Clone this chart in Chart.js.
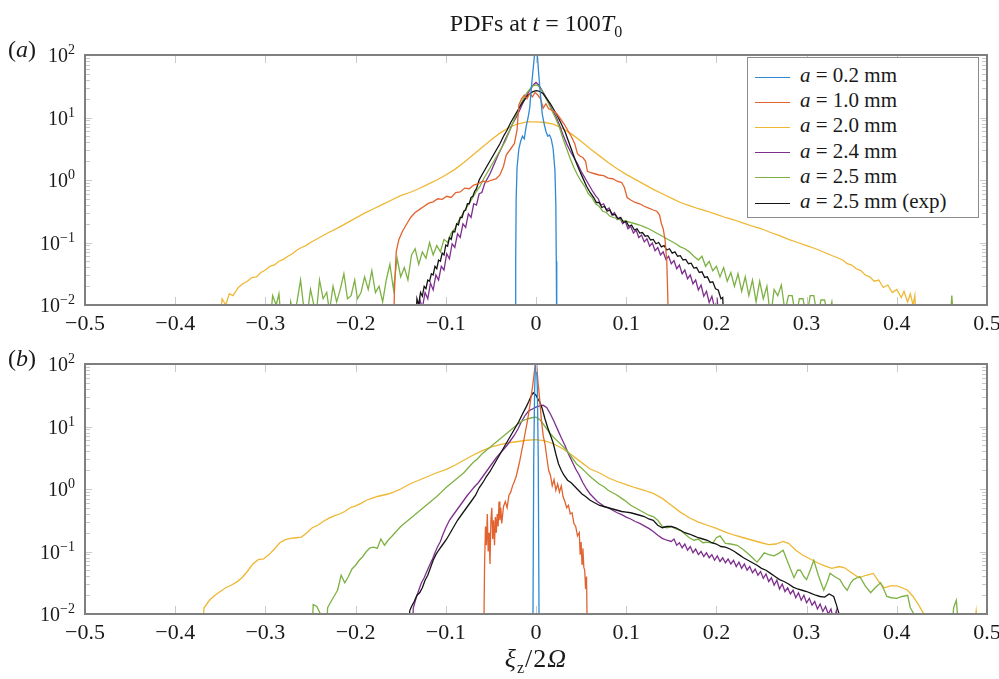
<!DOCTYPE html>
<html>
<head>
<meta charset="utf-8">
<script src="https://cdn.jsdelivr.net/npm/chart.js@4.4.1/dist/chart.umd.min.js"></script>
<style>
  body { margin: 0; background: #fff; }
  #wrap { position: relative; width: 999px; height: 679px; overflow: hidden; font-family: 'Liberation Serif', 'Times New Roman', 'DejaVu Serif', serif; color: #1a1a1a; }
  canvas { position: absolute; left: 0; }
  #c1 { top: 0; }
  #c2 { top: 309px; }
  .txt { position: absolute; white-space: nowrap; font-size: 24px; line-height: 26px; }
  #title { left: 336px; width: 400px; top: 10px; text-align: center; }
  #labA { left: 8px; top: 36px; }
  #labB { left: 8px; top: 345px; }
  #xlab { left: 386px; width: 300px; top: 646px; text-align: center; font-size: 26px; letter-spacing: 1px; }
  sub { font-size: 16px; vertical-align: -6px; line-height: 0; }
  #legend { position: absolute; left: 747px; top: 57px; width: 232px; height: 161px; border: 1.5px solid #8c8c8c; background: #fff; padding-top: 5px; box-sizing: border-box; }
  .row { height: 25.2px; line-height: 25px; font-size: 21px; white-space: nowrap; }
  .sw { display: inline-block; width: 35px; margin-left: 7px; margin-right: 10px; vertical-align: middle; border-top: 1.6px solid; }
</style>
</head>
<body>
<div id="wrap">
  <canvas id="c1" width="999" height="340"></canvas>
  <canvas id="c2" width="999" height="340"></canvas>
  <div class="txt" id="title">PDFs at <i>t</i> = 100<i>T</i><sub>0</sub></div>
  <div class="txt" id="labA">(<i>a</i>)</div>
  <div class="txt" id="labB">(<i>b</i>)</div>
  <div class="txt" id="xlab"><i>ξ</i><sub>z</sub>/2<i>Ω</i></div>
  <div id="legend"></div>
</div>
<script>
// series names and colours
const seriesLabels = ['a = 0.2 mm', 'a = 1.0 mm', 'a = 2.0 mm', 'a = 2.4 mm', 'a = 2.5 mm', 'a = 2.5 mm (exp)'];
const seriesColors = ['#2f89d4', '#e2632f', '#efb733', '#7e2f8e', '#7db143', '#141414'];
const drawOrder = [0, 1, 5, 4, 3, 2];

// axis ranges / ticks
const xMin = -0.5, xMax = 0.5, xStep = 0.1;
const yTickExponents = [-2, -1, 0, 1, 2];

// panel (a): pairs of [xi_z/2Omega, log10 PDF]
const a02 = [[-0.023,-2.5],[-0.0225,-1.3],[-0.022,-0.3],[-0.021,0.2],[-0.019,0.5],[-0.017,0.62],[-0.015,0.7],[-0.013,0.66],[-0.011,0.85],[-0.009,0.98],[-0.007,1.15],[-0.005,1.5],[-0.003,1.8],[-0.001,2.1],[0.001,2.1],[0.003,1.7],[0.005,1.35],[0.007,1.05],[0.009,0.9],[0.011,0.78],[0.013,0.7],[0.015,0.72],[0.017,0.65],[0.019,0.5],[0.021,0.15],[0.022,-0.4],[0.0225,-1.3],[0.023,-2.5]];
const a10 = [[-0.158,-2.5],[-0.157,-1.8],[-0.155,-1.15],[-0.152,-0.95],[-0.148,-0.82],[-0.144,-0.72],[-0.139,-0.6],[-0.134,-0.52],[-0.129,-0.47],[-0.124,-0.42],[-0.119,-0.37],[-0.114,-0.35],[-0.109,-0.3],[-0.104,-0.31],[-0.099,-0.26],[-0.094,-0.28],[-0.089,-0.2],[-0.084,-0.19],[-0.079,-0.13],[-0.074,-0.14],[-0.069,-0.08],[-0.064,-0.06],[-0.059,-0.02],[-0.054,-0.03],[-0.049,0.0],[-0.044,0.02],[-0.040,0.08],[-0.036,0.22],[-0.033,0.4],[-0.030,0.46],[-0.027,0.52],[-0.024,0.58],[-0.021,0.8],[-0.019,1.2],[-0.016,1.3],[-0.013,1.36],[-0.010,1.3],[-0.007,1.38],[-0.004,1.33],[-0.001,1.4],[0.002,1.36],[0.005,1.3],[0.008,1.15],[0.011,1.22],[0.014,1.14],[0.017,1.12],[0.020,1.1],[0.023,1.06],[0.027,0.98],[0.031,0.9],[0.035,0.8],[0.039,0.7],[0.043,0.58],[0.046,0.42],[0.049,0.38],[0.052,0.36],[0.055,0.3],[0.057,0.14],[0.060,0.12],[0.065,0.1],[0.070,0.08],[0.075,0.07],[0.080,0.03],[0.085,0.02],[0.090,-0.02],[0.095,-0.04],[0.098,-0.12],[0.101,-0.28],[0.105,-0.32],[0.110,-0.36],[0.115,-0.38],[0.120,-0.42],[0.125,-0.45],[0.130,-0.48],[0.134,-0.5],[0.137,-0.56],[0.139,-0.7],[0.141,-0.78],[0.143,-0.95],[0.145,-1.3],[0.146,-1.8],[0.147,-2.5]];
const a20 = [[-0.352,-2.5],[-0.348,-1.9],[-0.344,-2.0],[-0.340,-1.82],[-0.336,-1.85],[-0.330,-1.72],[-0.325,-1.66],[-0.320,-1.62],[-0.315,-1.56],[-0.310,-1.55],[-0.305,-1.48],[-0.300,-1.44],[-0.295,-1.38],[-0.290,-1.36],[-0.285,-1.3],[-0.280,-1.27],[-0.275,-1.22],[-0.270,-1.18],[-0.265,-1.12],[-0.260,-1.08],[-0.255,-1.05],[-0.250,-1.0],[-0.245,-0.96],[-0.240,-0.92],[-0.235,-0.88],[-0.230,-0.84],[-0.220,-0.77],[-0.210,-0.69],[-0.200,-0.61],[-0.190,-0.53],[-0.180,-0.46],[-0.170,-0.39],[-0.160,-0.32],[-0.150,-0.25],[-0.140,-0.2],[-0.130,-0.14],[-0.120,-0.07],[-0.110,0.0],[-0.100,0.08],[-0.090,0.17],[-0.080,0.28],[-0.070,0.4],[-0.060,0.52],[-0.050,0.64],[-0.040,0.75],[-0.030,0.84],[-0.020,0.9],[-0.010,0.93],[0.0,0.93],[0.010,0.92],[0.020,0.89],[0.030,0.82],[0.040,0.73],[0.050,0.62],[0.060,0.5],[0.070,0.39],[0.080,0.28],[0.090,0.18],[0.100,0.09],[0.110,0.01],[0.120,-0.07],[0.130,-0.15],[0.140,-0.22],[0.150,-0.29],[0.160,-0.36],[0.170,-0.41],[0.180,-0.46],[0.190,-0.5],[0.200,-0.55],[0.210,-0.6],[0.220,-0.64],[0.230,-0.69],[0.240,-0.74],[0.250,-0.78],[0.260,-0.84],[0.270,-0.89],[0.280,-0.95],[0.290,-1.0],[0.300,-1.05],[0.310,-1.1],[0.320,-1.16],[0.330,-1.22],[0.340,-1.28],[0.345,-1.34],[0.350,-1.36],[0.355,-1.42],[0.360,-1.45],[0.365,-1.52],[0.370,-1.55],[0.375,-1.62],[0.380,-1.6],[0.385,-1.72],[0.390,-1.68],[0.395,-1.8],[0.400,-1.75],[0.405,-1.88],[0.408,-1.78],[0.412,-1.95],[0.415,-1.82],[0.418,-2.0],[0.420,-1.85],[0.422,-2.5]];
const a24 = [[-0.131,-2.5],[-0.129,-1.9],[-0.126,-2.05],[-0.123,-1.8],[-0.120,-1.9],[-0.117,-1.65],[-0.114,-1.76],[-0.111,-1.52],[-0.108,-1.6],[-0.105,-1.38],[-0.102,-1.44],[-0.099,-1.18],[-0.096,-1.26],[-0.093,-1.02],[-0.090,-1.08],[-0.087,-0.86],[-0.084,-0.92],[-0.081,-0.7],[-0.078,-0.76],[-0.075,-0.54],[-0.072,-0.6],[-0.069,-0.38],[-0.066,-0.4],[-0.063,-0.22],[-0.060,-0.2],[-0.057,-0.06],[-0.054,0.02],[-0.051,0.1],[-0.048,0.2],[-0.045,0.3],[-0.042,0.4],[-0.038,0.52],[-0.034,0.65],[-0.030,0.77],[-0.026,0.9],[-0.022,1.0],[-0.018,1.12],[-0.014,1.25],[-0.010,1.36],[-0.006,1.46],[-0.003,1.52],[0.0,1.56],[0.003,1.52],[0.006,1.45],[0.010,1.35],[0.014,1.24],[0.018,1.12],[0.022,1.02],[0.026,0.88],[0.030,0.72],[0.034,0.58],[0.038,0.46],[0.042,0.36],[0.046,0.26],[0.050,0.14],[0.054,0.04],[0.058,-0.06],[0.062,-0.16],[0.066,-0.25],[0.069,-0.3],[0.072,-0.4],[0.075,-0.38],[0.078,-0.48],[0.081,-0.45],[0.084,-0.56],[0.087,-0.52],[0.090,-0.63],[0.093,-0.6],[0.096,-0.7],[0.099,-0.66],[0.102,-0.78],[0.105,-0.74],[0.108,-0.85],[0.111,-0.8],[0.114,-0.92],[0.117,-0.88],[0.120,-0.99],[0.123,-0.94],[0.126,-1.06],[0.129,-1.01],[0.132,-1.13],[0.135,-1.08],[0.138,-1.2],[0.141,-1.15],[0.144,-1.27],[0.147,-1.22],[0.150,-1.34],[0.153,-1.29],[0.156,-1.42],[0.159,-1.36],[0.162,-1.5],[0.165,-1.44],[0.168,-1.58],[0.171,-1.52],[0.174,-1.66],[0.177,-1.6],[0.180,-1.76],[0.183,-1.68],[0.186,-1.86],[0.189,-1.78],[0.192,-1.96],[0.195,-1.86],[0.198,-2.05],[0.201,-1.92],[0.204,-2.5]];
const a25 = [[-0.296,-2.5],[-0.292,-1.85],[-0.288,-2.0],[-0.285,-1.82],[-0.281,-2.5],[-0.275,-2.5],[-0.272,-1.95],[-0.268,-2.2],[-0.265,-1.95],[-0.261,-1.6],[-0.258,-1.98],[-0.254,-2.2],[-0.250,-1.75],[-0.247,-1.95],[-0.244,-2.2],[-0.240,-1.6],[-0.236,-1.9],[-0.232,-1.8],[-0.229,-2.1],[-0.225,-1.7],[-0.221,-1.95],[-0.217,-1.75],[-0.213,-1.5],[-0.209,-1.9],[-0.205,-1.85],[-0.201,-1.6],[-0.198,-1.9],[-0.194,-1.8],[-0.190,-1.55],[-0.186,-1.75],[-0.182,-1.45],[-0.178,-1.8],[-0.174,-1.7],[-0.170,-1.95],[-0.166,-1.6],[-0.162,-1.35],[-0.158,-1.75],[-0.154,-1.25],[-0.150,-1.55],[-0.146,-1.4],[-0.142,-1.6],[-0.138,-1.2],[-0.134,-1.1],[-0.130,-1.35],[-0.126,-1.15],[-0.122,-1.25],[-0.118,-1.0],[-0.114,-1.2],[-0.110,-1.05],[-0.106,-1.15],[-0.102,-0.95],[-0.098,-1.0],[-0.094,-0.85],[-0.090,-0.78],[-0.086,-0.66],[-0.082,-0.56],[-0.078,-0.46],[-0.074,-0.37],[-0.070,-0.28],[-0.066,-0.18],[-0.062,-0.1],[-0.058,0.02],[-0.054,0.12],[-0.050,0.22],[-0.046,0.32],[-0.042,0.42],[-0.038,0.52],[-0.034,0.62],[-0.030,0.76],[-0.026,0.9],[-0.022,1.04],[-0.018,1.18],[-0.014,1.3],[-0.010,1.4],[-0.006,1.47],[-0.003,1.51],[0.0,1.52],[0.003,1.5],[0.006,1.44],[0.010,1.34],[0.014,1.22],[0.018,1.1],[0.022,0.98],[0.026,0.84],[0.030,0.66],[0.034,0.5],[0.038,0.34],[0.042,0.2],[0.046,0.08],[0.050,-0.02],[0.054,-0.1],[0.058,-0.22],[0.062,-0.28],[0.066,-0.38],[0.070,-0.42],[0.074,-0.5],[0.078,-0.52],[0.082,-0.58],[0.086,-0.6],[0.090,-0.62],[0.095,-0.65],[0.100,-0.66],[0.105,-0.68],[0.110,-0.7],[0.115,-0.72],[0.120,-0.75],[0.125,-0.78],[0.130,-0.82],[0.135,-0.86],[0.140,-0.9],[0.145,-0.94],[0.150,-0.98],[0.155,-1.02],[0.160,-1.07],[0.165,-1.1],[0.170,-1.15],[0.175,-1.22],[0.180,-1.28],[0.184,-1.22],[0.188,-1.38],[0.192,-1.3],[0.196,-1.45],[0.200,-1.38],[0.204,-1.55],[0.208,-1.4],[0.212,-1.62],[0.216,-1.48],[0.220,-1.7],[0.224,-1.5],[0.228,-1.78],[0.232,-1.55],[0.236,-1.85],[0.240,-1.6],[0.244,-1.95],[0.248,-1.62],[0.252,-1.9],[0.256,-1.7],[0.260,-2.2],[0.264,-1.75],[0.268,-1.85],[0.272,-1.68],[0.276,-2.1],[0.280,-1.85],[0.284,-1.85],[0.288,-2.2],[0.292,-1.9],[0.296,-1.9],[0.300,-2.2],[0.304,-1.85],[0.308,-1.85],[0.312,-2.2],[0.316,-1.92],[0.320,-1.92],[0.324,-2.2],[0.328,-1.95],[0.332,-2.5],[0.335,null],[0.458,-2.5],[0.461,-1.85],[0.464,-2.5]];
const a25e = [[-0.134,-2.5],[-0.132,-1.9],[-0.130,-2.0],[-0.128,-1.8],[-0.126,-1.86],[-0.124,-1.7],[-0.122,-1.74],[-0.120,-1.6],[-0.118,-1.62],[-0.116,-1.5],[-0.114,-1.52],[-0.112,-1.38],[-0.110,-1.42],[-0.108,-1.28],[-0.106,-1.3],[-0.104,-1.17],[-0.102,-1.2],[-0.100,-1.04],[-0.098,-1.06],[-0.096,-0.92],[-0.094,-0.95],[-0.092,-0.82],[-0.090,-0.83],[-0.088,-0.7],[-0.086,-0.72],[-0.084,-0.6],[-0.082,-0.6],[-0.080,-0.5],[-0.078,-0.48],[-0.076,-0.38],[-0.074,-0.38],[-0.072,-0.28],[-0.070,-0.26],[-0.068,-0.18],[-0.066,-0.14],[-0.063,0.0],[-0.060,0.08],[-0.056,0.18],[-0.052,0.28],[-0.048,0.38],[-0.044,0.48],[-0.040,0.58],[-0.036,0.7],[-0.032,0.8],[-0.028,0.92],[-0.024,1.02],[-0.020,1.12],[-0.016,1.22],[-0.012,1.3],[-0.008,1.37],[-0.004,1.41],[0.0,1.43],[0.004,1.42],[0.008,1.38],[0.012,1.3],[0.016,1.22],[0.020,1.12],[0.024,1.02],[0.028,0.9],[0.032,0.78],[0.036,0.62],[0.040,0.46],[0.044,0.3],[0.048,0.16],[0.052,0.03],[0.056,-0.1],[0.060,-0.2],[0.064,-0.28],[0.067,-0.36],[0.070,-0.36],[0.073,-0.44],[0.076,-0.42],[0.079,-0.5],[0.082,-0.48],[0.085,-0.56],[0.088,-0.55],[0.091,-0.62],[0.094,-0.6],[0.097,-0.68],[0.100,-0.66],[0.103,-0.74],[0.106,-0.72],[0.109,-0.8],[0.112,-0.78],[0.115,-0.85],[0.118,-0.84],[0.121,-0.9],[0.124,-0.89],[0.127,-0.96],[0.130,-0.95],[0.133,-1.02],[0.136,-1.0],[0.139,-1.07],[0.142,-1.05],[0.145,-1.12],[0.148,-1.1],[0.151,-1.17],[0.154,-1.15],[0.157,-1.22],[0.160,-1.21],[0.163,-1.28],[0.166,-1.27],[0.169,-1.34],[0.172,-1.33],[0.175,-1.41],[0.178,-1.4],[0.181,-1.48],[0.184,-1.47],[0.187,-1.56],[0.190,-1.55],[0.193,-1.64],[0.196,-1.63],[0.199,-1.74],[0.202,-1.76],[0.205,-1.9],[0.207,-1.88],[0.209,-2.5]];

// panel (b): pairs of [xi_z/2Omega, log10 PDF]
const b02 = [[-0.0035,-2.5],[-0.0025,0.5],[-0.0015,1.6],[0.0,2.2],[0.0015,1.6],[0.0025,0.5],[0.0035,-2.5]];
const b10 = [[-0.058,-2.5],[-0.057,-1.2],[-0.056,-0.6],[-0.055,-0.9],[-0.054,-0.4],[-0.053,-1.0],[-0.052,-0.7],[-0.051,-1.2],[-0.050,-0.5],[-0.049,-0.3],[-0.048,-0.8],[-0.047,-0.5],[-0.046,-0.9],[-0.045,-0.45],[-0.044,-0.7],[-0.043,-0.4],[-0.042,-0.6],[-0.041,-0.2],[-0.040,-0.5],[-0.039,-0.3],[-0.038,-0.55],[-0.036,-0.28],[-0.034,-0.2],[-0.032,-0.3],[-0.030,-0.1],[-0.028,-0.05],[-0.026,0.05],[-0.024,0.12],[-0.022,0.2],[-0.020,0.32],[-0.018,0.45],[-0.016,0.6],[-0.014,0.74],[-0.012,0.9],[-0.010,1.05],[-0.008,1.22],[-0.006,1.42],[-0.004,1.62],[-0.002,1.85],[0.0,2.1],[0.002,1.75],[0.004,1.45],[0.006,1.1],[0.008,0.85],[0.010,0.72],[0.012,0.5],[0.014,0.3],[0.016,0.22],[0.018,0.05],[0.020,0.15],[0.022,-0.02],[0.024,0.08],[0.026,-0.05],[0.028,0.05],[0.030,-0.12],[0.032,-0.2],[0.034,-0.3],[0.036,-0.26],[0.038,-0.4],[0.040,-0.38],[0.042,-0.55],[0.044,-0.6],[0.046,-0.75],[0.048,-0.7],[0.049,-1.05],[0.050,-0.85],[0.051,-1.2],[0.052,-0.95],[0.053,-1.25],[0.054,-1.3],[0.055,-1.6],[0.056,-1.4],[0.057,-2.5]];
const b20 = [[-0.372,-2.5],[-0.368,-1.9],[-0.362,-1.78],[-0.356,-1.7],[-0.350,-1.64],[-0.344,-1.58],[-0.338,-1.54],[-0.332,-1.49],[-0.326,-1.42],[-0.320,-1.32],[-0.314,-1.2],[-0.308,-1.13],[-0.302,-1.12],[-0.296,-1.05],[-0.290,-0.96],[-0.284,-0.86],[-0.278,-0.81],[-0.272,-0.79],[-0.266,-0.78],[-0.260,-0.77],[-0.254,-0.7],[-0.248,-0.62],[-0.242,-0.58],[-0.236,-0.52],[-0.230,-0.47],[-0.224,-0.43],[-0.218,-0.4],[-0.212,-0.36],[-0.206,-0.3],[-0.200,-0.27],[-0.194,-0.23],[-0.188,-0.18],[-0.182,-0.15],[-0.176,-0.12],[-0.170,-0.1],[-0.164,-0.08],[-0.158,-0.05],[-0.150,0.0],[-0.140,0.08],[-0.130,0.14],[-0.120,0.2],[-0.110,0.26],[-0.100,0.31],[-0.090,0.38],[-0.080,0.46],[-0.070,0.54],[-0.060,0.61],[-0.050,0.67],[-0.040,0.71],[-0.030,0.74],[-0.020,0.76],[-0.010,0.78],[0.0,0.79],[0.010,0.77],[0.020,0.72],[0.030,0.64],[0.040,0.54],[0.050,0.43],[0.060,0.32],[0.070,0.26],[0.080,0.18],[0.090,0.12],[0.100,0.07],[0.110,0.02],[0.120,-0.02],[0.130,-0.07],[0.140,-0.15],[0.150,-0.26],[0.160,-0.37],[0.170,-0.46],[0.180,-0.53],[0.190,-0.58],[0.200,-0.63],[0.210,-0.69],[0.220,-0.74],[0.230,-0.78],[0.240,-0.82],[0.250,-0.86],[0.258,-0.89],[0.266,-0.88],[0.274,-0.84],[0.280,-0.87],[0.288,-0.98],[0.296,-1.06],[0.304,-1.12],[0.312,-1.18],[0.320,-1.23],[0.328,-1.27],[0.336,-1.24],[0.342,-1.26],[0.350,-1.34],[0.358,-1.42],[0.366,-1.38],[0.374,-1.35],[0.380,-1.48],[0.386,-1.58],[0.393,-1.55],[0.400,-1.55],[0.406,-1.58],[0.412,-1.62],[0.418,-1.72],[0.424,-1.85],[0.430,-2.0],[0.433,-2.5],[0.440,null],[0.484,-2.5],[0.488,-1.95],[0.492,-2.5]];
const b24 = [[-0.138,-2.5],[-0.136,-1.9],[-0.133,-1.75],[-0.130,-1.62],[-0.127,-1.5],[-0.124,-1.42],[-0.121,-1.32],[-0.118,-1.22],[-0.115,-1.13],[-0.112,-1.02],[-0.109,-0.92],[-0.106,-0.84],[-0.103,-0.72],[-0.100,-0.62],[-0.096,-0.5],[-0.092,-0.42],[-0.088,-0.34],[-0.084,-0.26],[-0.080,-0.18],[-0.076,-0.1],[-0.072,-0.03],[-0.068,0.04],[-0.064,0.1],[-0.060,0.18],[-0.056,0.26],[-0.052,0.34],[-0.048,0.42],[-0.044,0.5],[-0.040,0.57],[-0.036,0.63],[-0.032,0.7],[-0.028,0.78],[-0.024,0.86],[-0.020,0.96],[-0.016,1.08],[-0.012,1.18],[-0.008,1.25],[-0.004,1.28],[0.0,1.31],[0.004,1.33],[0.008,1.34],[0.012,1.3],[0.016,1.2],[0.020,1.08],[0.024,0.95],[0.028,0.82],[0.032,0.7],[0.036,0.56],[0.040,0.44],[0.044,0.32],[0.048,0.22],[0.052,0.1],[0.056,0.0],[0.060,-0.08],[0.064,-0.14],[0.068,-0.2],[0.072,-0.24],[0.076,-0.28],[0.080,-0.3],[0.085,-0.34],[0.090,-0.38],[0.095,-0.41],[0.100,-0.45],[0.105,-0.48],[0.110,-0.52],[0.115,-0.55],[0.120,-0.59],[0.125,-0.63],[0.130,-0.68],[0.135,-0.74],[0.140,-0.79],[0.145,-0.82],[0.150,-0.84],[0.153,-0.8],[0.156,-0.9],[0.159,-0.86],[0.162,-0.94],[0.165,-0.88],[0.168,-0.98],[0.171,-0.92],[0.174,-1.02],[0.177,-0.96],[0.180,-1.05],[0.183,-1.0],[0.186,-1.08],[0.189,-1.02],[0.192,-1.1],[0.195,-1.05],[0.198,-1.14],[0.201,-1.07],[0.204,-1.16],[0.207,-1.1],[0.210,-1.18],[0.213,-1.12],[0.216,-1.2],[0.219,-1.14],[0.222,-1.24],[0.225,-1.17],[0.228,-1.27],[0.231,-1.2],[0.234,-1.3],[0.237,-1.24],[0.240,-1.34],[0.243,-1.28],[0.246,-1.38],[0.249,-1.32],[0.252,-1.43],[0.255,-1.36],[0.258,-1.48],[0.261,-1.42],[0.264,-1.54],[0.267,-1.46],[0.270,-1.6],[0.273,-1.52],[0.276,-1.64],[0.279,-1.58],[0.282,-1.68],[0.285,-1.62],[0.288,-1.74],[0.291,-1.66],[0.294,-1.78],[0.297,-1.7],[0.300,-1.82],[0.303,-1.75],[0.306,-1.86],[0.309,-1.8],[0.312,-1.92],[0.315,-1.84],[0.318,-1.96],[0.321,-1.88],[0.324,-2.0],[0.327,-1.92],[0.330,-2.1],[0.333,-1.95],[0.336,-2.5]];
const b25 = [[-0.249,-2.5],[-0.247,-1.85],[-0.243,-1.88],[-0.239,-2.0],[-0.236,-2.5],[-0.233,-2.5],[-0.231,-1.9],[-0.228,-1.82],[-0.224,-1.72],[-0.220,-1.62],[-0.216,-1.38],[-0.212,-1.5],[-0.208,-1.4],[-0.204,-1.28],[-0.200,-1.22],[-0.196,-1.14],[-0.192,-1.08],[-0.188,-1.0],[-0.184,-0.94],[-0.180,-0.93],[-0.176,-0.95],[-0.172,-0.8],[-0.168,-0.9],[-0.164,-0.82],[-0.160,-0.76],[-0.155,-0.68],[-0.150,-0.6],[-0.145,-0.54],[-0.140,-0.48],[-0.135,-0.42],[-0.130,-0.36],[-0.125,-0.3],[-0.120,-0.24],[-0.115,-0.18],[-0.110,-0.12],[-0.105,-0.05],[-0.100,0.02],[-0.095,0.08],[-0.090,0.14],[-0.085,0.2],[-0.080,0.26],[-0.075,0.34],[-0.070,0.42],[-0.065,0.48],[-0.060,0.56],[-0.055,0.62],[-0.050,0.68],[-0.045,0.74],[-0.040,0.8],[-0.035,0.86],[-0.030,0.92],[-0.025,0.98],[-0.020,1.04],[-0.015,1.09],[-0.010,1.12],[-0.005,1.14],[0.0,1.15],[0.005,1.1],[0.010,1.0],[0.015,0.9],[0.020,0.82],[0.025,0.75],[0.030,0.68],[0.035,0.6],[0.040,0.5],[0.045,0.4],[0.050,0.34],[0.055,0.27],[0.060,0.2],[0.065,0.14],[0.070,0.08],[0.075,0.04],[0.080,-0.02],[0.085,-0.06],[0.090,-0.1],[0.095,-0.15],[0.100,-0.2],[0.105,-0.26],[0.110,-0.3],[0.115,-0.34],[0.120,-0.38],[0.125,-0.42],[0.130,-0.44],[0.135,-0.5],[0.140,-0.6],[0.145,-0.62],[0.150,-0.6],[0.155,-0.64],[0.160,-0.66],[0.165,-0.72],[0.170,-0.78],[0.175,-0.82],[0.180,-0.8],[0.185,-0.86],[0.190,-0.85],[0.196,-0.87],[0.200,-0.78],[0.204,-0.75],[0.210,-0.87],[0.216,-0.88],[0.223,-0.9],[0.229,-0.96],[0.234,-1.02],[0.240,-1.1],[0.245,-1.17],[0.249,-1.1],[0.253,-1.02],[0.258,-1.05],[0.264,-1.07],[0.269,-1.03],[0.274,-0.98],[0.280,-1.2],[0.286,-1.42],[0.290,-1.3],[0.293,-1.3],[0.297,-1.4],[0.300,-1.45],[0.304,-1.3],[0.308,-1.14],[0.313,-1.38],[0.319,-1.62],[0.323,-1.48],[0.326,-1.35],[0.331,-1.4],[0.337,-1.45],[0.341,-1.55],[0.345,-1.62],[0.349,-1.5],[0.352,-1.45],[0.356,-1.42],[0.359,-1.4],[0.365,-1.55],[0.371,-1.66],[0.376,-1.58],[0.382,-1.5],[0.386,-1.62],[0.389,-1.72],[0.394,-1.74],[0.400,-1.75],[0.406,-1.72],[0.412,-1.7],[0.415,-1.9],[0.419,-2.0],[0.421,-2.5],[0.430,null],[0.460,-2.5],[0.463,-1.9],[0.466,-1.78],[0.470,-2.5]];
const b25e = [[-0.142,-2.5],[-0.140,-1.95],[-0.138,-1.88],[-0.135,-1.8],[-0.132,-1.7],[-0.129,-1.66],[-0.126,-1.58],[-0.123,-1.46],[-0.120,-1.38],[-0.117,-1.26],[-0.114,-1.14],[-0.111,-1.05],[-0.108,-0.98],[-0.105,-0.92],[-0.102,-0.86],[-0.099,-0.8],[-0.095,-0.7],[-0.091,-0.6],[-0.087,-0.5],[-0.083,-0.42],[-0.079,-0.34],[-0.075,-0.26],[-0.071,-0.18],[-0.067,-0.1],[-0.063,0.02],[-0.059,0.1],[-0.055,0.2],[-0.051,0.28],[-0.047,0.38],[-0.043,0.48],[-0.039,0.58],[-0.035,0.68],[-0.031,0.78],[-0.027,0.88],[-0.023,0.98],[-0.019,1.08],[-0.015,1.2],[-0.011,1.31],[-0.008,1.4],[-0.005,1.5],[-0.003,1.54],[0.0,1.5],[0.002,1.44],[0.004,1.4],[0.007,1.28],[0.010,1.12],[0.013,0.98],[0.016,0.86],[0.019,0.74],[0.022,0.56],[0.025,0.4],[0.028,0.3],[0.031,0.22],[0.035,0.14],[0.039,0.1],[0.043,0.04],[0.047,-0.02],[0.051,-0.08],[0.055,-0.12],[0.060,-0.18],[0.065,-0.22],[0.070,-0.26],[0.075,-0.28],[0.080,-0.3],[0.085,-0.32],[0.090,-0.34],[0.095,-0.36],[0.100,-0.37],[0.105,-0.38],[0.110,-0.4],[0.115,-0.42],[0.120,-0.44],[0.125,-0.48],[0.130,-0.5],[0.135,-0.58],[0.140,-0.62],[0.145,-0.6],[0.150,-0.6],[0.155,-0.62],[0.160,-0.66],[0.165,-0.7],[0.170,-0.72],[0.175,-0.75],[0.180,-0.78],[0.185,-0.8],[0.190,-0.82],[0.195,-0.86],[0.200,-0.88],[0.205,-0.92],[0.210,-0.93],[0.215,-0.96],[0.220,-1.0],[0.225,-1.05],[0.230,-1.1],[0.235,-1.14],[0.240,-1.18],[0.245,-1.22],[0.250,-1.27],[0.255,-1.3],[0.260,-1.35],[0.265,-1.4],[0.270,-1.45],[0.275,-1.48],[0.280,-1.52],[0.285,-1.57],[0.290,-1.6],[0.295,-1.62],[0.300,-1.64],[0.305,-1.67],[0.310,-1.7],[0.315,-1.72],[0.320,-1.73],[0.325,-1.68],[0.330,-1.72],[0.333,-1.85],[0.336,-2.0],[0.338,-2.5]];

const seriesA = [a02, a10, a20, a24, a25, a25e];
const seriesB = [b02, b10, b20, b24, b25, b25e];

const serif = "'Liberation Serif', 'Times New Roman', 'DejaVu Serif', serif";

function toPoints(pairs) {
  return pairs.map(([x, l]) => ({ x: x, y: l === null ? null : Math.pow(10, l) }));
}

// box, inner tick marks and 10^n labels
const framePlugin = {
  id: 'frame',
  afterDatasetsDraw(chart) {
    const { ctx, chartArea: a, scales: { x, y } } = chart;
    ctx.save();
    ctx.strokeStyle = '#c9c9c9';
    ctx.lineWidth = 1;
    ctx.beginPath();
    x.ticks.forEach(t => {
      const px = Math.round(x.getPixelForValue(t.value)) + 0.5;
      if (px < a.left + 3 || px > a.right - 3) return;
      ctx.moveTo(px, a.top); ctx.lineTo(px, a.top + 8);
      ctx.moveTo(px, a.bottom); ctx.lineTo(px, a.bottom - 8);
    });
    for (let d = yTickExponents[0]; d < yTickExponents[yTickExponents.length - 1]; d++) {
      for (let k = 1; k < 10; k++) {
        const py = Math.round(y.getPixelForValue(k * Math.pow(10, d))) + 0.5;
        const len = k === 1 ? 7 : 5;
        ctx.moveTo(a.left, py); ctx.lineTo(a.left + len, py);
        ctx.moveTo(a.right, py); ctx.lineTo(a.right - len, py);
      }
    }
    ctx.stroke();
    ctx.strokeStyle = '#7f7f7f';
    ctx.lineWidth = 2;
    ctx.strokeRect(a.left, a.top, a.right - a.left, a.bottom - a.top);

    ctx.fillStyle = '#1a1a1a';
    ctx.textBaseline = 'alphabetic';
    ctx.textAlign = 'left';
    yTickExponents.forEach(e => {
      const py = y.getPixelForValue(Math.pow(10, e));
      const sup = e < 0 ? '\u2212' + Math.abs(e) : String(e);
      ctx.font = '14px ' + serif;
      const wSup = ctx.measureText(sup).width;
      ctx.font = '20px ' + serif;
      const wBase = ctx.measureText('10').width;
      const right = a.left - 10;
      ctx.fillText('10', right - wSup - wBase, py + 7);
      ctx.font = '14px ' + serif;
      ctx.fillText(sup, right - wSup, py - 1);
    });
    ctx.restore();
  }
};

function makeChart(id, series) {
  return new Chart(document.getElementById(id), {
    type: 'line',
    data: {
      datasets: series.map((s, i) => ({
        label: seriesLabels[i],
        data: toPoints(s),
        borderColor: seriesColors[i],
        borderWidth: 1.3,
        pointRadius: 0,
        tension: 0,
        fill: false,
        clip: 0,
        order: drawOrder[i],
      })),
    },
    options: {
      responsive: false,
      animation: false,
      devicePixelRatio: 1,
      events: [],
      layout: { padding: { top: 55, right: 12, left: 0, bottom: 0 } },
      plugins: { legend: { display: false }, tooltip: { enabled: false } },
      scales: {
        x: {
          type: 'linear',
          min: xMin,
          max: xMax,
          grid: { display: false, drawTicks: false },
          border: { display: false },
          ticks: {
            stepSize: xStep,
            autoSkip: false,
            maxRotation: 0,
            padding: 6,
            color: '#1a1a1a',
            font: { family: serif, size: 22 },
            callback: v => Math.abs(v) < 1e-9 ? '0' : (v < 0 ? '\u2212' + Math.abs(v).toFixed(1) : v.toFixed(1)),
          },
          afterFit: s => { s.height = 35; s.paddingLeft = 0; s.paddingRight = 0; },
        },
        y: {
          type: 'logarithmic',
          min: Math.pow(10, yTickExponents[0]),
          max: Math.pow(10, yTickExponents[yTickExponents.length - 1]),
          grid: { display: false, drawTicks: false },
          border: { display: false },
          ticks: { display: false },
          afterFit: s => { s.width = 85; },
        },
      },
    },
    plugins: [framePlugin],
  });
}

const chartA = makeChart('c1', seriesA);
makeChart('c2', seriesB);

// legend box inside panel (a)
document.getElementById('legend').innerHTML = chartA.data.datasets.map(ds =>
  '<div class="row"><span class="sw" style="border-top-color:' + ds.borderColor + '"></span>' +
  ds.label.replace(/^a/, '<i>a</i>') + '</div>'
).join('');
</script>
</body>
</html>
